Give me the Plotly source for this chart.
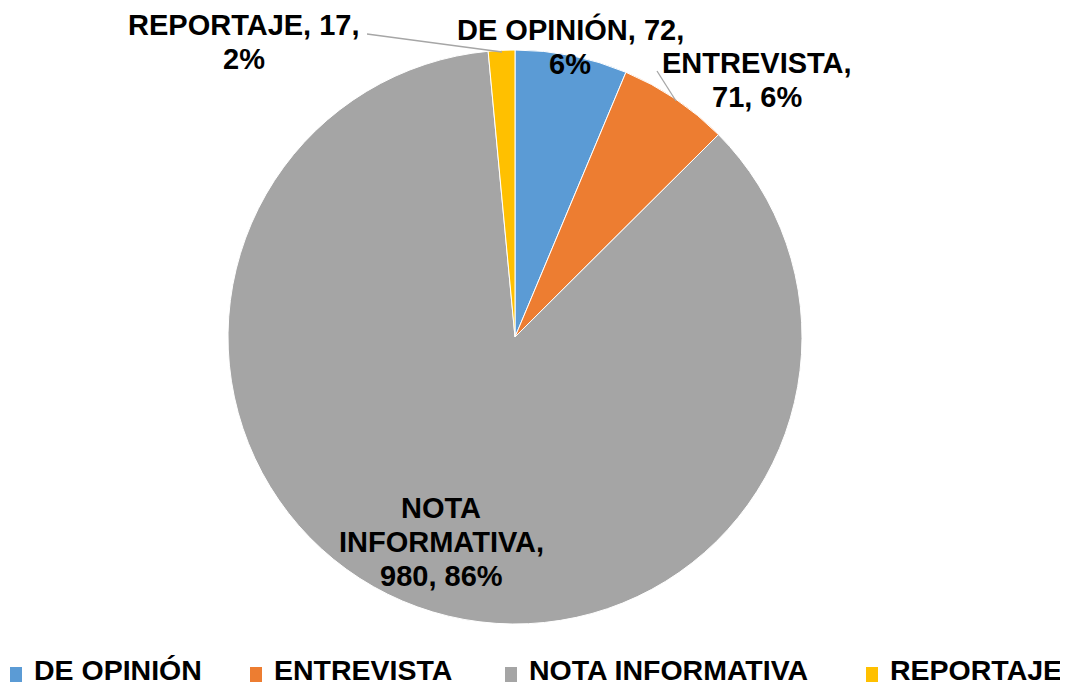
import plotly.graph_objects as go

categories = ["DE OPINIÓN", "ENTREVISTA", "NOTA INFORMATIVA", "REPORTAJE"]
values = [72, 71, 980, 17]
percents = ["6%", "6%", "86%", "2%"]
colors = ["#5B9BD5", "#ED7D31", "#A5A5A5", "#FFC000"]

OFF = 8  # page body margin in the browser
W, H = 1068, 688 - OFF
cx, cy, r = 515, 337, 287

def px(x):
    return (x - OFF) / W

def py(y):
    return 1 - (y - OFF) / H

fig = go.Figure(go.Pie(
    labels=categories, values=values, sort=False,
    direction="clockwise", rotation=0,
    marker=dict(colors=colors, line=dict(color="white", width=1)),
    textinfo="none", hoverinfo="label+value+percent",
    domain=dict(x=[px(cx - r), px(cx + r)], y=[py(cy + r), py(cy - r)]),
    showlegend=False,
))

font = dict(family="Liberation Sans, Arial", size=29, color="black")
label_lines = {
    0: [f"{categories[0]}, {values[0]},", percents[0]],
    1: [f"{categories[1]},", f"{values[1]}, {percents[1]}"],
    2: ["NOTA", "INFORMATIVA,", f"{values[2]}, {percents[2]}"],
    3: [f"{categories[3]}, {values[3]},", percents[3]],
}
label_pos = {0: (570, 30), 1: (757, 63), 2: (441, 508), 3: (244, 25)}
pitch = 34
for i, lines in label_lines.items():
    x, y = label_pos[i]
    for k, t in enumerate(lines):
        fig.add_annotation(x=px(x), y=py(y + k * pitch), xref="paper", yref="paper",
                           text=f"<b>{t}</b>", showarrow=False, font=font,
                           xanchor="center", yanchor="middle")

# leader lines
for (x0, y0, x1, y1) in [(367, 34, 502, 52), (657, 71, 676, 101)]:
    fig.add_shape(type="line", xref="paper", yref="paper", x0=px(x0), y0=py(y0), x1=px(x1), y1=py(y1),
                  line=dict(color="#A6A6A6", width=1.3))

# legend row (drawn as keys + text, laid out like the original)
legend_marker_x = [10, 250, 505, 866]
legend_font = dict(family="Liberation Sans, Arial", size=28.5, color="black")
for i, c in enumerate(categories):
    mx = legend_marker_x[i]
    fig.add_shape(type="rect", xref="paper", yref="paper",
                  x0=px(mx), x1=px(mx + 12), y0=py(682), y1=py(667),
                  fillcolor=colors[i], line=dict(width=0))
    fig.add_annotation(x=px(mx + 23), y=py(670), xref="paper", yref="paper",
                       text=f"<b>{c}</b>", showarrow=False, font=legend_font,
                       xanchor="left", yanchor="middle", borderpad=0)

fig.update_layout(
    width=W, height=H, margin=dict(l=0, r=0, t=0, b=0, autoexpand=False),
    paper_bgcolor="white", plot_bgcolor="white",
    showlegend=False,
)

fig.write_html("out.html")
